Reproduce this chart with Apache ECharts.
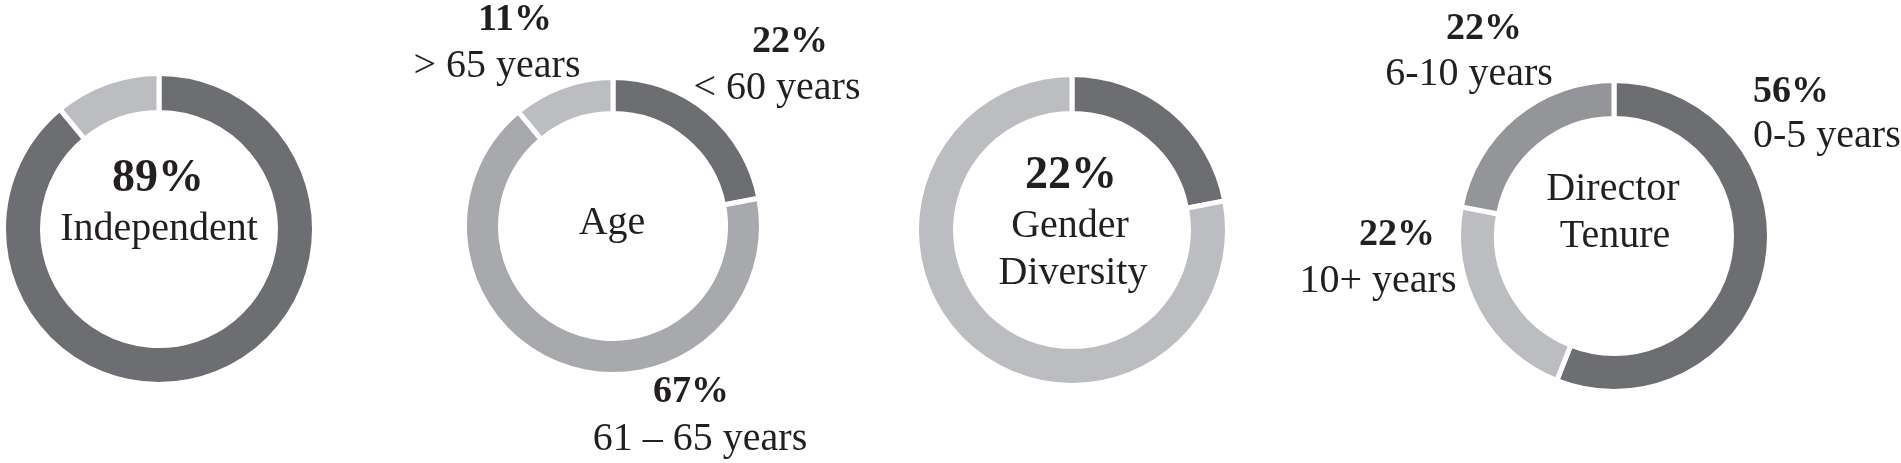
<!DOCTYPE html>
<html>
<head>
<meta charset="utf-8">
<script src="https://cdn.jsdelivr.net/npm/echarts@6/dist/echarts.min.js"></script>
<style>
  html, body { margin: 0; padding: 0; background: #ffffff; }
  #chart { width: 1901px; height: 463px; }
</style>
</head>
<body>
<div id="chart"></div>
<script>
// ---- Data ----
const independentCategories = ['Independent', 'Not independent'];
const independentValues = [89, 11];

const ageCategories = ['< 60 years', '61 – 65 years', '> 65 years'];
const ageValues = [22, 67, 11];

const genderCategories = ['Women', 'Men'];
const genderValues = [22, 78];

const tenureCategories = ['0-5 years', '10+ years', '6-10 years'];
const tenureValues = [56, 22, 22];

// ---- Styles ----
const DARK = '#6d6e71';
const MID_AGE = '#a7a9ac';
const MID_TEN = '#939598';
const LIGHT = '#bcbdc0';
const SERIF = '"Liberation Serif", "Times New Roman", Times, serif';

function pieSeries(name, cats, vals, colors, center, radius) {
  return {
    type: 'pie',
    name: name,
    center: center,
    radius: radius,
    startAngle: 90,
    clockwise: true,
    silent: true,
    label: { show: false },
    labelLine: { show: false },
    emphasis: { disabled: true },
    itemStyle: { borderColor: '#ffffff', borderWidth: 5 },
    data: cats.map((c, i) => ({ name: c, value: vals[i], itemStyle: { color: colors[i] } }))
  };
}

function txt(text, x, y, size, bold, align) {
  const a = align || 'center';
  return {
    type: 'text',
    silent: true,
    style: {
      text: text,
      x: x,
      y: y,
      font: (bold ? 'bold ' : '') + size + 'px ' + SERIF,
      fill: '#231f20',
      align: a,
      verticalAlign: 'middle',
      textAlign: a,
      textVerticalAlign: 'middle'
    }
  };
}

const pct = v => v + '%';

const chart = echarts.init(document.getElementById('chart'), null, { renderer: 'canvas' });
chart.setOption({
  animation: false,
  backgroundColor: '#ffffff',
  series: [
    pieSeries('Independence', independentCategories, independentValues, [DARK, LIGHT], [159, 229], [116.5, 155.5]),
    pieSeries('Age', ageCategories, ageValues, [DARK, MID_AGE, LIGHT], [613, 226], [112.5, 148.5]),
    pieSeries('Gender Diversity', genderCategories, genderValues, [DARK, LIGHT], [1072, 230], [116.5, 155.5]),
    pieSeries('Director Tenure', tenureCategories, tenureValues, [DARK, LIGHT, MID_TEN], [1614, 236], [117.5, 155.5])
  ],
  graphic: [
    // Independence
    txt(pct(independentValues[0]), 158, 179.5, 46, true),
    txt(independentCategories[0], 159, 229.5, 40, false),
    // Age
    txt(pct(ageValues[2]), 515, 20, 38, true),
    txt(ageCategories[2], 497, 66.5, 40, false),
    txt(pct(ageValues[0]), 790, 42, 38, true),
    txt(ageCategories[0], 777, 88.5, 40, false),
    txt('Age', 612, 223.5, 40, false),
    txt(pct(ageValues[1]), 691, 392, 38, true),
    txt(ageCategories[1], 700, 439.5, 40, false),
    // Gender
    txt(pct(genderValues[0]), 1071, 176.5, 46, true),
    txt('Gender', 1070, 226.5, 40, false),
    txt('Diversity', 1073, 273.5, 40, false),
    // Tenure
    txt(pct(tenureValues[2]), 1484, 29, 38, true),
    txt(tenureCategories[2], 1469, 74.5, 40, false),
    txt(pct(tenureValues[0]), 1753, 92, 38, true, 'left'),
    txt(tenureCategories[0], 1753, 136.5, 40, false, 'left'),
    txt(pct(tenureValues[1]), 1397, 235, 38, true),
    txt(tenureCategories[1], 1378, 281.5, 40, false),
    txt('Director', 1613, 189.5, 40, false),
    txt('Tenure', 1615, 236.5, 40, false)
  ]
});
</script>
</body>
</html>
